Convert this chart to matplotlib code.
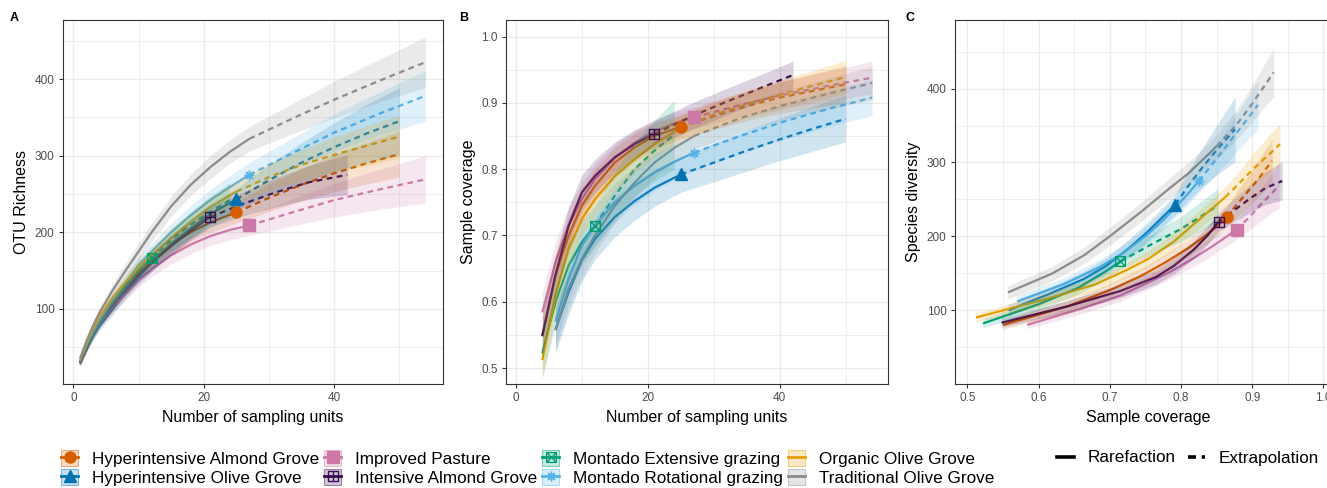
import numpy as np
import matplotlib
matplotlib.use("Agg")
import matplotlib.pyplot as plt
from matplotlib.patches import Patch
from matplotlib.lines import Line2D
from matplotlib.path import Path
from matplotlib.colors import to_rgba

plt.rcParams['font.family'] = ['Liberation Sans', 'DejaVu Sans']

# group names and colours
labels = ['Hyperintensive Almond Grove', 'Hyperintensive Olive Grove', 'Improved Pasture',
          'Intensive Almond Grove', 'Montado Extensive grazing', 'Montado Rotational grazing',
          'Organic Olive Grove', 'Traditional Olive Grove']
colors = ['#D55E00', '#0072B2', '#CC79A7', '#3B0B54', '#009E73', '#56B4E9', '#E69F00', '#8C8C8C']

nan = np.nan

# Hyperintensive Almond Grove
hag_n = 25
hag_m = [1, 2, 3, 4, 6, 8, 10, 12, 15, 18, 21, 25, 30, 35, 40, 45, 50]
hag_rich = [30, 49, 66, 80, 105, 127, 147, 163, 184, 200, 213, 226, 245, 262, 277, 290, 302]
hag_rich_ci = [3, 4, 5, 6, 8, 9, 10, 11, 12, 12, 13, 14, 18, 21, 24, 27, 30]
hag_cov = [nan, nan, nan, 0.55, 0.64, 0.70, 0.745, 0.775, 0.81, 0.833, 0.85, 0.864,
           0.88, 0.895, 0.908, 0.918, 0.928]
hag_cov_ci = [nan, nan, nan, 0.03, 0.03, 0.028, 0.026, 0.025, 0.023, 0.021, 0.02, 0.018,
              0.02, 0.022, 0.024, 0.026, 0.028]

# Hyperintensive Olive Grove
hog_n = 25
hog_m = [1, 2, 3, 4, 6, 8, 10, 12, 15, 18, 21, 25, 30, 35, 40, 45, 50]
hog_rich = [30, 48, 64, 78, 100, 122, 142, 160, 185, 205, 224, 243, 268, 291, 311, 329, 345]
hog_rich_ci = [3, 4, 5, 6, 8, 9, 10, 11, 12, 13, 13, 14, 20, 26, 32, 38, 44]
hog_cov = [nan, nan, nan, nan, 0.558, 0.615, 0.663, 0.695, 0.728, 0.752, 0.772, 0.792,
           0.81, 0.828, 0.845, 0.861, 0.876]
hog_cov_ci = [nan, nan, nan, nan, 0.035, 0.034, 0.032, 0.031, 0.03, 0.029, 0.028, 0.027,
              0.029, 0.031, 0.032, 0.034, 0.035]

# Improved Pasture
ip_n = 27
ip_m = [1, 2, 3, 4, 6, 8, 10, 12, 15, 18, 21, 24, 27, 34, 40, 47, 54]
ip_rich = [27, 46, 64, 80, 102, 120, 138, 152, 170, 184, 195, 203, 209, 227, 242, 256, 269]
ip_rich_ci = [2, 3, 4, 5, 7, 8, 9, 10, 11, 12, 12, 13, 13, 18, 22, 26, 31]
ip_cov = [nan, nan, nan, 0.584, 0.66, 0.715, 0.755, 0.785, 0.817, 0.84, 0.857, 0.869, 0.878,
          0.897, 0.911, 0.925, 0.938]
ip_cov_ci = [nan, nan, nan, 0.03, 0.03, 0.028, 0.025, 0.023, 0.021, 0.019, 0.018, 0.017, 0.016,
             0.018, 0.02, 0.022, 0.025]

# Intensive Almond Grove
iag_n = 21
iag_m = [1, 2, 3, 4, 6, 8, 10, 12, 15, 18, 21, 26, 31, 36, 42]
iag_rich = [30, 50, 68, 83, 105, 126, 145, 160, 182, 202, 220, 237, 252, 265, 275]
iag_rich_ci = [3, 4, 5, 6, 8, 9, 10, 11, 12, 12, 13, 16, 19, 22, 26]
iag_cov = [nan, nan, nan, 0.548, 0.64, 0.715, 0.765, 0.79, 0.818, 0.838, 0.853,
           0.877, 0.898, 0.918, 0.942]
iag_cov_ci = [nan, nan, nan, 0.03, 0.03, 0.028, 0.026, 0.025, 0.023, 0.021, 0.02,
              0.02, 0.02, 0.02, 0.021]

# Montado Extensive grazing
meg_n = 12
meg_m = [1, 2, 3, 4, 6, 8, 10, 12, 15, 18, 21, 24]
meg_rich = [30, 48, 66, 82, 108, 130, 150, 166, 190, 210, 227, 242]
meg_rich_ci = [3, 4, 5, 6, 8, 9, 10, 11, 14, 17, 20, 23]
meg_cov = [nan, nan, nan, 0.522, 0.60, 0.655, 0.69, 0.715, 0.76, 0.80, 0.828, 0.852]
meg_cov_ci = [nan, nan, nan, 0.035, 0.035, 0.034, 0.033, 0.032, 0.036, 0.041, 0.046, 0.052]

# Montado Rotational grazing
mrg_n = 27
mrg_m = [1, 2, 3, 4, 6, 8, 10, 12, 15, 18, 21, 24, 27, 34, 40, 47, 54]
mrg_rich = [32, 52, 70, 85, 112, 135, 158, 175, 200, 222, 242, 259, 275, 305, 330, 355, 378]
mrg_rich_ci = [3, 4, 5, 6, 8, 9, 10, 11, 12, 13, 14, 15, 16, 20, 24, 28, 33]
mrg_cov = [nan, nan, nan, nan, 0.57, 0.635, 0.685, 0.715, 0.75, 0.775, 0.795, 0.811, 0.825,
           0.85, 0.87, 0.89, 0.908]
mrg_cov_ci = [nan, nan, nan, nan, 0.035, 0.033, 0.031, 0.03, 0.03, 0.029, 0.028, 0.027, 0.027,
              0.027, 0.027, 0.027, 0.027]

# Organic Olive Grove
oog_n = 25
oog_m = [1, 2, 3, 4, 6, 8, 10, 12, 15, 18, 21, 25, 30, 35, 40, 45, 50]
oog_rich = [32, 55, 74, 90, 115, 135, 155, 170, 193, 214, 233, 253, 272, 288, 301, 313, 325]
oog_rich_ci = [3, 4, 5, 6, 8, 9, 10, 11, 12, 12, 13, 14, 17, 20, 23, 26, 28]
oog_cov = [nan, nan, nan, 0.512, 0.61, 0.68, 0.725, 0.755, 0.79, 0.815, 0.838, 0.862,
           0.882, 0.898, 0.912, 0.926, 0.939]
oog_cov_ci = [nan, nan, nan, 0.03, 0.03, 0.028, 0.026, 0.025, 0.023, 0.021, 0.02, 0.019,
              0.02, 0.021, 0.022, 0.023, 0.025]

# Traditional Olive Grove
tog_n = 27
tog_m = [1, 2, 3, 4, 6, 8, 10, 12, 15, 18, 21, 24, 27, 34, 40, 47, 54]
tog_rich = [35, 58, 78, 95, 124, 150, 175, 200, 234, 262, 285, 305, 322, 350, 373, 398, 422]
tog_rich_ci = [4, 5, 6, 7, 9, 10, 11, 12, 13, 14, 15, 15, 16, 20, 24, 28, 33]
tog_cov = [nan, nan, nan, nan, 0.557, 0.62, 0.665, 0.70, 0.745, 0.78, 0.81, 0.832, 0.85,
           0.877, 0.895, 0.913, 0.93]
tog_cov_ci = [nan, nan, nan, nan, 0.03, 0.03, 0.028, 0.027, 0.026, 0.024, 0.022, 0.021, 0.02,
              0.021, 0.022, 0.023, 0.025]

sq_plus = Path([(-1, -1), (1, -1), (1, 1), (-1, 1), (-1, -1), (0, -1), (0, 1), (-1, 0), (1, 0)],
               [1, 2, 2, 2, 79, 1, 2, 1, 2])
sq_cross = Path([(-1, -1), (1, -1), (1, 1), (-1, 1), (-1, -1), (-1, -1), (1, 1), (-1, 1), (1, -1)],
                [1, 2, 2, 2, 79, 1, 2, 1, 2])
markers = ['o', '^', 's', sq_plus, sq_cross, (8, 2, 0), None, None]
filled = [True, True, True, False, False, False, False, False]

series = [
    (hag_n, hag_m, hag_rich, hag_rich_ci, hag_cov, hag_cov_ci),
    (hog_n, hog_m, hog_rich, hog_rich_ci, hog_cov, hog_cov_ci),
    (ip_n, ip_m, ip_rich, ip_rich_ci, ip_cov, ip_cov_ci),
    (iag_n, iag_m, iag_rich, iag_rich_ci, iag_cov, iag_cov_ci),
    (meg_n, meg_m, meg_rich, meg_rich_ci, meg_cov, meg_cov_ci),
    (mrg_n, mrg_m, mrg_rich, mrg_rich_ci, mrg_cov, mrg_cov_ci),
    (oog_n, oog_m, oog_rich, oog_rich_ci, oog_cov, oog_cov_ci),
    (tog_n, tog_m, tog_rich, tog_rich_ci, tog_cov, tog_cov_ci),
]

W, H = 1327, 488
fig = plt.figure(figsize=(W / 100, H / 100), dpi=100)
axA = fig.add_axes([63 / W, 1 - 384 / H, 380 / W, 364 / H])
axB = fig.add_axes([506 / W, 1 - 384 / H, 382 / W, 364 / H])
axC = fig.add_axes([955 / W, 1 - 384 / H, 386 / W, 364 / H])

lw = 1.6
dash = (2.6, 2.0)


def draw(ax, x, y, ci, n_idx, col, mk, fill):
    x = np.asarray(x, float)
    y = np.asarray(y, float)
    ci = np.asarray(ci, float)
    ok = ~(np.isnan(x) | np.isnan(y))
    x, y, ci = x[ok], y[ok], ci[ok]
    n_idx = n_idx - (len(ok) - ok.sum())
    ax.plot(x[:n_idx + 1], y[:n_idx + 1], color=col, lw=lw, zorder=3, solid_capstyle='butt')
    ax.plot(x[n_idx:], y[n_idx:], color=col, lw=lw, ls=(0, dash), zorder=3)
    ax.fill_between(x, y - ci, y + ci, color=col, alpha=0.18, lw=0, zorder=4)
    if mk is not None:
        if fill:
            ax.plot(x[n_idx], y[n_idx], marker=mk, ms=8, color=col, mec=col, zorder=5)
        else:
            ax.plot(x[n_idx], y[n_idx], marker=mk, ms=7, mfc='none', mec=col, mew=1.0, zorder=5)


for (n, m, rich, rci, cov, cci), col, mk, fl in zip(series, colors, markers, filled):
    idx = m.index(n)
    draw(axA, m, rich, rci, idx, col, mk, fl)
    draw(axB, m, cov, cci, idx, col, mk, fl)
    # coverage-based view: x = sample coverage, y = richness
    draw(axC, cov, rich, rci, idx, col, mk, fl)

grid_c = '#EBEBEB'
for ax in (axA, axB, axC):
    ax.set_facecolor('white')
    for s in ax.spines.values():
        s.set_color('#333333')
        s.set_linewidth(0.8)
    ax.grid(True, which='major', color=grid_c, lw=1.0, zorder=0)
    ax.grid(True, which='minor', color=grid_c, lw=0.6, zorder=0)
    ax.set_axisbelow(True)
    ax.tick_params(which='major', length=3, width=0.8, color='#333333', labelcolor='#4D4D4D',
                   labelsize=8.5, pad=3)
    ax.tick_params(which='minor', length=0)

axA.set_xlim(-1.6, 56.7)
axA.set_ylim(2, 477)
axA.set_xticks([0, 20, 40])
axA.set_xticks([10, 30, 50], minor=True)
axA.set_yticks([100, 200, 300, 400])
axA.set_yticks([50, 150, 250, 350, 450], minor=True)
axA.set_xlabel('Number of sampling units', fontsize=11.5)
axA.set_ylabel('OTU Richness', fontsize=11.5)

axB.set_xlim(-1.5, 56.4)
axB.set_ylim(0.476, 1.025)
axB.set_xticks([0, 20, 40])
axB.set_xticks([10, 30, 50], minor=True)
axB.set_yticks([0.5, 0.6, 0.7, 0.8, 0.9, 1.0])
axB.set_yticks([0.55, 0.65, 0.75, 0.85, 0.95], minor=True)
axB.set_yticklabels(['0.5', '0.6', '0.7', '0.8', '0.9', '1.0'])
axB.set_xlabel('Number of sampling units', fontsize=11.5)
axB.set_ylabel('Sample coverage', fontsize=11.5)

axC.set_xlim(0.4827, 1.0246)
axC.set_ylim(0, 493)
axC.set_xticks([0.5, 0.6, 0.7, 0.8, 0.9, 1.0])
axC.set_xticklabels(['0.5', '0.6', '0.7', '0.8', '0.9', '1.0'])
axC.set_xticks([0.55, 0.65, 0.75, 0.85, 0.95], minor=True)
axC.set_yticks([100, 200, 300, 400])
axC.set_yticks([50, 150, 250, 350, 450], minor=True)
axC.set_xlabel('Sample coverage', fontsize=11.5)
axC.set_ylabel('Species diversity', fontsize=11.5)

for lab, px in (('A', 10), ('B', 459), ('C', 905)):
    fig.text(px / W, 1 - 18 / H, lab, fontsize=9, fontweight='bold', va='center')

# legends
handles = []
for col, mk, fl in zip(colors, markers, filled):
    patch = Patch(facecolor=to_rgba(col, 0.22), edgecolor=to_rgba(col, 0.45), lw=0.8)
    if mk is None:
        ln = Line2D([], [], color=col, lw=2)
    elif fl:
        ln = Line2D([], [], color=col, lw=2, marker=mk, ms=8, mec=col)
    else:
        ln = Line2D([], [], color=col, lw=2, marker=mk, ms=7, mfc='none', mec=col, mew=1.0)
    handles.append((patch, ln))

fig.legend(handles, labels, ncol=4, loc='center left', bbox_to_anchor=(61 / W, 1 - 468 / H),
           frameon=False, fontsize=12.3, handlelength=1.0, handleheight=1.0, handletextpad=0.8,
           columnspacing=0.3, labelspacing=0.15, borderaxespad=0, borderpad=0, numpoints=1)

lt_handles = [Line2D([], [], color='black', lw=2.6),
              Line2D([], [], color='black', lw=2.6, ls=(0, (2.2, 1.6)))]
fig.legend(lt_handles, ['Rarefaction', 'Extrapolation'], ncol=2, loc='center left',
           bbox_to_anchor=(1057 / W, 1 - 458 / H), frameon=False, fontsize=12.3,
           handlelength=1.0, handletextpad=0.8, columnspacing=0.7, borderaxespad=0, borderpad=0)

fig.savefig('out.png', dpi=100)
